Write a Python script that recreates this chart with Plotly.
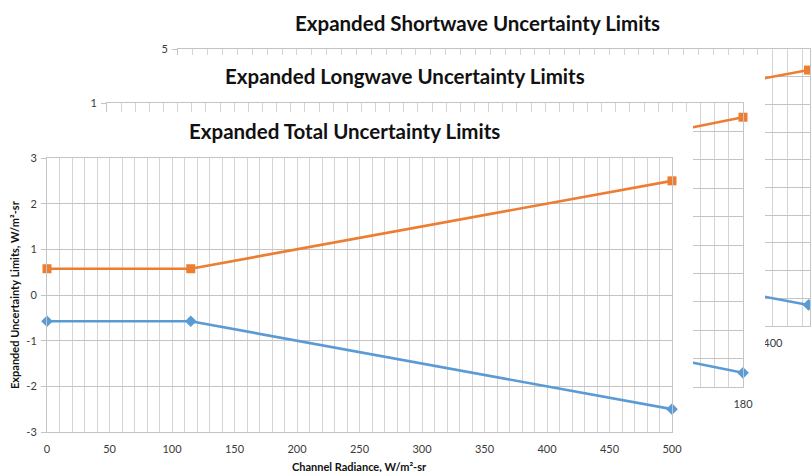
import plotly.graph_objects as go

W, H = 811, 472

# ---- data -------------------------------------------------------------
# Total (front chart)
total_x = [0, 115, 500]
total_upper = [0.575, 0.575, 2.5]
total_lower = [-0.575, -0.575, -2.5]
total_ytick_vals = [-3, -2, -1, 0, 1, 2, 3]
total_ytick_text = ["-3", "-2", "-1", "0", "1", "2", "3"]

# Longwave (middle chart)
lw_x = [0, 115, 180]
lw_upper = [0.575, 0.575, 0.9]
lw_lower = [-0.575, -0.575, -0.9]

# Shortwave (back chart)
sw_x = [0, 115, 424]
sw_upper = [1.15, 1.15, 4.24]
sw_lower = [-1.15, -1.15, -4.24]

chart_titles = [
    "Expanded Shortwave Uncertainty Limits",
    "Expanded Longwave Uncertainty Limits",
    "Expanded Total Uncertainty Limits",
]
x_title = "Channel Radiance, W/m²-sr"
y_title = "Expanded Uncertainty Limits, W/m²-sr"

# ---- styling ----------------------------------------------------------
ORANGE = "#ED7D31"
BLUE = "#5B9BD5"
GRID_H = "#c4c4c4"
GRID_V = "#d4d4d4"
TICK_COLOR = "#3a3a3a"
TITLE_COLOR = "#111111"
FONT = "Lato"


def xdom(left, right):
    return [left / W, right / W]


def ydom(top, bottom):
    return [1 - bottom / H, 1 - top / H]


def x_axis(domain, anchor, rng, dtick, minor_dtick):
    return dict(
        domain=domain, anchor=anchor, range=rng, autorange=False,
        tick0=0, dtick=dtick, showgrid=True, gridcolor=GRID_V, gridwidth=1,
        minor=dict(dtick=minor_dtick, tick0=0, showgrid=True, gridcolor=GRID_V, gridwidth=1),
        showline=True, mirror=True, linecolor=GRID_H, linewidth=1,
        zeroline=False, ticks="", ticklabelstandoff=7,
        tickfont=dict(family=FONT, size=11, color=TICK_COLOR),
        automargin=False, fixedrange=True,
    )


def y_axis(domain, anchor, rng, dtick, **extra):
    d = dict(
        domain=domain, anchor=anchor, range=rng, autorange=False,
        tick0=0, dtick=dtick, showgrid=True, gridcolor=GRID_H, gridwidth=1,
        showline=True, mirror=True, linecolor=GRID_H, linewidth=1,
        zeroline=False, ticks="outside", ticklen=5, tickcolor=GRID_H,
        ticklabelstandoff=2,
        tickfont=dict(family=FONT, size=11, color=TICK_COLOR),
        automargin=False, fixedrange=True,
    )
    d.update(extra)
    return d


def blank_axis(domain, anchor):
    return dict(domain=domain, anchor=anchor, range=[0, 1], visible=False,
                showgrid=False, zeroline=False, automargin=False, fixedrange=True)


def limit_traces(x, upper, lower, xa, ya):
    return [
        go.Scatter(x=x, y=upper, xaxis=xa, yaxis=ya, mode="lines+markers",
                   line=dict(color=ORANGE, width=2.6),
                   marker=dict(symbol="square", size=9, color=ORANGE),
                   cliponaxis=False, showlegend=False, hoverinfo="skip"),
        go.Scatter(x=x, y=lower, xaxis=xa, yaxis=ya, mode="lines+markers",
                   line=dict(color=BLUE, width=2.6),
                   marker=dict(symbol="diamond", size=9, color=BLUE),
                   cliponaxis=False, showlegend=False, hoverinfo="skip"),
    ]


def sheet(xa, ya):
    # empty subplot whose white plot background masks the charts behind it
    return go.Scatter(x=[None], y=[None], xaxis=xa, yaxis=ya, mode="markers",
                      showlegend=False, hoverinfo="skip")


fig = go.Figure()
for t in limit_traces(sw_x, sw_upper, sw_lower, "x", "y"):
    fig.add_trace(t)
fig.add_trace(sheet("x2", "y2"))
for t in limit_traces(lw_x, lw_upper, lw_lower, "x3", "y3"):
    fig.add_trace(t)
fig.add_trace(sheet("x4", "y4"))
for t in limit_traces(total_x, total_upper, total_lower, "x5", "y5"):
    fig.add_trace(t)

title_font = dict(family=FONT, size=20.5, color=TITLE_COLOR, weight="bold")
axis_title_font = dict(family=FONT, size=11, color=TITLE_COLOR, weight="bold")

annotations = [
    dict(text=chart_titles[0], x=477 / W, y=1 - 23 / H),
    dict(text=chart_titles[1], x=405 / W, y=1 - 76 / H),
    dict(text=chart_titles[2], x=344 / W, y=1 - 131 / H),
]
annotations = [dict(a, xref="paper", yref="paper", xanchor="center", yanchor="middle",
                    showarrow=False, font=title_font) for a in annotations]
annotations.append(dict(text=x_title, x=359.5 / W, y=1 - 466 / H, xref="paper", yref="paper",
                        xanchor="center", yanchor="middle", showarrow=False, font=axis_title_font))
annotations.append(dict(text=y_title, x=14 / W, y=1 - 295 / H, xref="paper", yref="paper",
                        xanchor="center", yanchor="middle", showarrow=False, textangle=-90,
                        font=axis_title_font))

fig.update_layout(
    template="none",
    width=W, height=H,
    margin=dict(l=0, r=0, t=0, b=0, pad=0),
    paper_bgcolor="white", plot_bgcolor="white",
    showlegend=False, hovermode=False,
    font=dict(family=FONT, color=TICK_COLOR),
    # shortwave chart (back)
    xaxis=x_axis(xdom(178, 810), "y", [0, 425], 50, 10),
    yaxis=y_axis(ydom(49, 326), "x", [-5, 5], 1),
    # sheet of the longwave chart
    xaxis2=blank_axis(xdom(0, 765), "y2"),
    yaxis2=blank_axis(ydom(55, 472), "x2"),
    # longwave chart (middle)
    xaxis3=x_axis(xdom(107, 743), "y3", [0, 180], 20, 4),
    yaxis3=y_axis(ydom(103, 387), "x3", [-1, 1], 0.2),
    # sheet of the total chart
    xaxis4=blank_axis(xdom(0, 693), "y4"),
    yaxis4=blank_axis(ydom(112, 472), "x4"),
    # total chart (front)
    xaxis5=x_axis(xdom(47, 672), "y5", [0, 500], 50, 10),
    yaxis5=y_axis(ydom(158, 432), "x5", [-3, 3], 1,
                  tickmode="array", tickvals=total_ytick_vals, ticktext=total_ytick_text),
    annotations=annotations,
)

fig.write_html("out.html")
